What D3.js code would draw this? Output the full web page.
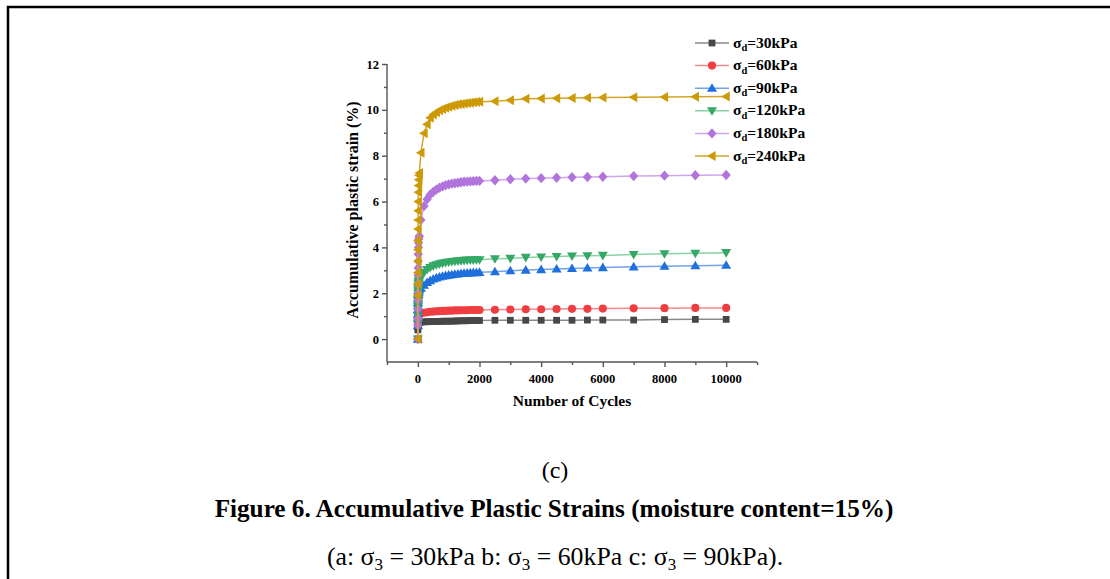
<!DOCTYPE html>
<html>
<head>
<meta charset="utf-8">
<script src="https://cdn.jsdelivr.net/npm/d3@7"></script>
<style>
  body { margin: 0; background: #fff; }
  text { font-family: "Liberation Serif", "Times New Roman", serif; }
</style>
</head>
<body>
<svg id="chart" width="1110" height="579"></svg>
<script>
// cycle numbers shared by all series
var cycles = [0, 1, 2, 3, 4, 5, 6, 8, 10, 12, 15, 20, 25, 30, 40, 50,
  100, 200, 300, 400, 500, 600, 700, 800, 900, 1000, 1100, 1200, 1300, 1400, 1500, 1600, 1700, 1800, 1900, 2000,
  2500, 3000, 3500, 4000, 4500, 5000, 5500, 6000, 7000, 8000, 9000, 10000];

var strain30 = [0, 0.4, 0.5, 0.55, 0.6, 0.62, 0.64, 0.66, 0.68, 0.69, 0.7, 0.7, 0.71, 0.71, 0.72, 0.72,
  0.74, 0.75, 0.76, 0.76, 0.77, 0.77, 0.77, 0.78, 0.78, 0.78, 0.78, 0.79, 0.79, 0.8, 0.8, 0.8, 0.81, 0.81, 0.81, 0.81,
  0.82, 0.82, 0.82, 0.82, 0.82, 0.82, 0.83, 0.83, 0.83, 0.85, 0.86, 0.86];
var strain60 = [0, 0.6, 0.75, 0.85, 0.9, 0.95, 1.0, 1.03, 1.05, 1.07, 1.08, 1.09, 1.1, 1.1, 1.11, 1.12,
  1.13, 1.15, 1.17, 1.19, 1.2, 1.21, 1.22, 1.23, 1.23, 1.24, 1.24, 1.25, 1.25, 1.26, 1.26, 1.26, 1.27, 1.27, 1.27, 1.27,
  1.28, 1.29, 1.3, 1.3, 1.31, 1.32, 1.32, 1.33, 1.34, 1.35, 1.36, 1.36];
var strain90 = [0, 0.6, 0.9, 1.1, 1.3, 1.45, 1.6, 1.7, 1.8, 1.9, 1.95, 2.0, 2.05, 2.1, 2.15, 2.2,
  2.22, 2.35, 2.47, 2.55, 2.62, 2.67, 2.71, 2.74, 2.77, 2.79, 2.81, 2.83, 2.84, 2.86, 2.87, 2.88, 2.89, 2.9, 2.9, 2.91,
  2.94, 2.98, 3.01, 3.03, 3.06, 3.08, 3.1, 3.12, 3.15, 3.18, 3.2, 3.22];
var strain120 = [0, 0.7, 1.0, 1.3, 1.5, 1.7, 1.85, 2.0, 2.1, 2.2, 2.3, 2.4, 2.45, 2.5, 2.55, 2.6,
  2.7, 2.9, 3.03, 3.12, 3.19, 3.24, 3.28, 3.31, 3.34, 3.36, 3.38, 3.39, 3.41, 3.42, 3.43, 3.44, 3.45, 3.45, 3.46, 3.46,
  3.5, 3.52, 3.56, 3.58, 3.6, 3.62, 3.63, 3.65, 3.69, 3.72, 3.74, 3.77];
var strain180 = [0, 0.6, 0.9, 1.3, 1.7, 2.0, 2.4, 2.8, 3.1, 3.4, 3.7, 4.0, 4.2, 4.35, 4.45, 4.5,
  5.2, 5.8, 6.1, 6.3, 6.42, 6.52, 6.6, 6.66, 6.71, 6.75, 6.78, 6.8, 6.82, 6.84, 6.86, 6.87, 6.88, 6.89, 6.9, 6.9,
  6.93, 6.97, 7.0, 7.02, 7.04, 7.06, 7.07, 7.08, 7.11, 7.13, 7.15, 7.16];
var strain240 = [0, 1.9, 2.4, 2.9, 3.4, 3.9, 4.3, 4.8, 5.2, 5.6, 6.0, 6.4, 6.7, 6.95, 7.15, 7.25,
  8.13, 8.98, 9.37, 9.65, 9.8, 9.9, 9.98, 10.04, 10.09, 10.14, 10.18, 10.21, 10.24, 10.26, 10.28, 10.3, 10.31, 10.33, 10.34, 10.35,
  10.38, 10.42, 10.48, 10.5, 10.51, 10.52, 10.53, 10.54, 10.55, 10.56, 10.57, 10.58];

var seriesLabels = ["30kPa", "60kPa", "90kPa", "120kPa", "180kPa", "240kPa"];
var seriesValues = [strain30, strain60, strain90, strain120, strain180, strain240];
var markerColors = ["#474747", "#ef3e42", "#1f6fdc", "#35a865", "#b174dc", "#cc9a06"];
var lineColors = ["#8a8a8a", "#f48a8c", "#6fa3ec", "#88d2a4", "#cfa6ee", "#d4a52a"];
var markerTypes = ["square", "circle", "triangleUp", "triangleDown", "diamond", "triangleLeft"];

var yTicks = [0, 2, 4, 6, 8, 10, 12];
var xTicks = [0, 2000, 4000, 6000, 8000, 10000];

var svg = d3.select("#chart");

// page frame
svg.append("line").attr("x1", 7).attr("x2", 1110).attr("y1", 7).attr("y2", 7)
  .attr("stroke", "#000").attr("stroke-width", 2.5);
svg.append("line").attr("x1", 8).attr("x2", 8).attr("y1", 6).attr("y2", 579)
  .attr("stroke", "#000").attr("stroke-width", 2.5);

var x = d3.scaleLinear().domain([-1000, 11000]).range([387, 757]);
var y = d3.scaleLinear().domain([-1, 12]).range([362, 64]);

var axisColor = "#555";

// x axis
var xAxis = svg.append("g").attr("transform", "translate(0,362)")
  .call(d3.axisBottom(x).tickValues(d3.range(-1000, 11001, 1000)).tickSize(3).tickFormat(""));
xAxis.selectAll("line").filter(function (d) { return d % 2000 === 0; }).attr("y2", 5);
xAxis.select(".domain").attr("d", "M387,0H757");
svg.append("g").selectAll("text").data(xTicks).enter().append("text")
  .attr("x", function (d) { return x(d); }).attr("y", 383)
  .attr("text-anchor", "middle").attr("font-size", 12.5).attr("font-weight", "bold")
  .text(function (d) { return d; });

// y axis
var yAxis = svg.append("g").attr("transform", "translate(387,0)")
  .call(d3.axisLeft(y).tickValues(d3.range(0, 13, 1)).tickSize(3).tickFormat(""));
yAxis.selectAll("line").filter(function (d) { return d % 2 === 0; }).attr("x2", -5);
yAxis.select(".domain").attr("d", "M0,64V362");
svg.append("g").selectAll("text").data(yTicks).enter().append("text")
  .attr("x", 379).attr("y", function (d) { return y(d) + 4.5; })
  .attr("text-anchor", "end").attr("font-size", 12.5).attr("font-weight", "bold")
  .text(function (d) { return d; });

svg.selectAll(".domain, .tick line").attr("stroke", axisColor).attr("stroke-width", 1.4);

// axis titles
svg.append("text").attr("x", 572).attr("y", 406).attr("text-anchor", "middle")
  .attr("font-size", 15.5).attr("font-weight", "bold").text("Number of Cycles");
svg.append("text").attr("transform", "translate(358,210) rotate(-90)").attr("text-anchor", "middle")
  .attr("font-size", 16).attr("font-weight", "bold").text("Accumulative plastic strain (%)");

// marker shapes
function markerPath(type) {
  if (type === "square") return d3.symbol(d3.symbolSquare, 46)();
  if (type === "circle") return d3.symbol(d3.symbolCircle, 52)();
  if (type === "diamond") return "M0,-5.2L4.6,0L0,5.2L-4.6,0Z";
  if (type === "triangleUp") return "M0,-5L5,3.6L-5,3.6Z";
  if (type === "triangleDown") return "M0,5L5,-3.6L-5,-3.6Z";
  return "M-5,0L3.6,-5L3.6,5Z";
}

var line = d3.line()
  .x(function (d) { return x(d[0]); })
  .y(function (d) { return y(d[1]); });

seriesValues.forEach(function (vals, i) {
  var pts = cycles.map(function (c, j) { return [c, vals[j]]; });
  var g = svg.append("g");
  g.append("path").datum(pts).attr("d", line)
    .attr("fill", "none").attr("stroke", lineColors[i]).attr("stroke-width", 1.5);
  g.selectAll("path.pt").data(pts).enter().append("path").attr("class", "pt")
    .attr("d", markerPath(markerTypes[i]))
    .attr("transform", function (d) { return "translate(" + x(d[0]) + "," + y(d[1]) + ")"; })
    .attr("fill", markerColors[i]);
});

// legend
var legend = svg.append("g").selectAll("g").data(seriesLabels).enter().append("g")
  .attr("transform", function (d, i) { return "translate(0," + (43 + i * 22.6) + ")"; });
legend.append("line").attr("x1", 695).attr("x2", 729)
  .attr("stroke", function (d, i) { return lineColors[i]; }).attr("stroke-width", 1.5);
legend.append("path")
  .attr("d", function (d, i) { return markerPath(markerTypes[i]); })
  .attr("transform", "translate(712,0)")
  .attr("fill", function (d, i) { return markerColors[i]; });
var lt = legend.append("text").attr("x", 733).attr("y", 4.5)
  .attr("font-size", 15.5).attr("font-weight", "bold");
lt.append("tspan").text("σ");
lt.append("tspan").attr("font-size", 10.5).attr("dy", 3.5).text("d");
lt.append("tspan").attr("dy", -3.5).text(function (d) { return "=" + d; });

// captions
svg.append("text").attr("x", 555).attr("y", 478).attr("text-anchor", "middle")
  .attr("font-size", 24).text("(c)");
svg.append("text").attr("x", 554).attr("y", 517).attr("text-anchor", "middle")
  .attr("font-size", 25.2).attr("font-weight", "bold")
  .text("Figure 6. Accumulative Plastic Strains (moisture content=15%)");
var cap = svg.append("text").attr("x", 555).attr("y", 565).attr("text-anchor", "middle")
  .attr("font-size", 25.8);
cap.append("tspan").text("(a: σ");
cap.append("tspan").attr("font-size", 17).attr("dy", 5).text("3");
cap.append("tspan").attr("dy", -5).text(" = 30kPa b: σ");
cap.append("tspan").attr("font-size", 17).attr("dy", 5).text("3");
cap.append("tspan").attr("dy", -5).text(" = 60kPa c: σ");
cap.append("tspan").attr("font-size", 17).attr("dy", 5).text("3");
cap.append("tspan").attr("dy", -5).text(" = 90kPa).");
</script>
</body>
</html>
